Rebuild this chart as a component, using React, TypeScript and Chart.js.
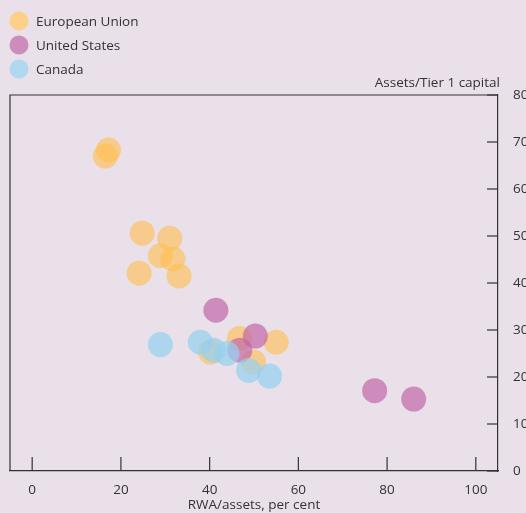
import React, { useEffect, useRef } from "react";
import { Chart, registerables } from "chart.js";

Chart.register(...registerables);

const seriesNames = ["European Union", "United States", "Canada"];
const seriesColors = ["rgba(255,190,80,0.62)", "rgba(192,100,165,0.68)", "rgba(150,208,240,0.72)"];
const legendColors = ["rgb(253,208,138)", "rgb(204,140,188)", "rgb(176,216,240)"];

const euX = [17.2, 16.5, 24.8, 31.0, 28.9, 31.7, 24.1, 33.1, 46.7, 55.0, 40.2, 49.9];
const euY = [68.3, 67.0, 50.6, 49.5, 45.8, 45.1, 42.1, 41.5, 28.2, 27.4, 25.3, 23.2];
const usX = [41.4, 50.3, 46.8, 77.2, 86.0];
const usY = [34.2, 28.7, 25.7, 17.1, 15.3];
const caX = [28.9, 37.9, 40.9, 43.9, 48.8, 53.5];
const caY = [26.9, 27.4, 25.7, 25.0, 21.4, 20.2];

const xTicks = [0, 20, 40, 60, 80, 100];
const yTicks = [0, 10, 20, 30, 40, 50, 60, 70, 80];
const xTitle = "RWA/assets, per cent";
const yTitle = "Assets/Tier 1 capital";

const FONT = "'Open Sans', sans-serif";
const FS = 13.5;
const TEXT = "#333333";
const LINE = "#333333";

const toPoints = (xs: number[], ys: number[]) => xs.map((x, i) => ({ x, y: ys[i] }));

export default function App() {
  const ref = useRef<HTMLCanvasElement | null>(null);
  useEffect(() => {
    document.body.style.margin = "0";
    const ctx = ref.current!;
    const decor = {
      id: "decor",
      afterDraw(chart: any) {
        const c = chart.ctx;
        const { left, right, top, bottom } = chart.chartArea;
        const xs = chart.scales.x;
        const ys = chart.scales.y;
        c.save();
        c.strokeStyle = LINE;
        c.lineWidth = 1.2;
        c.beginPath();
        c.moveTo(left, bottom);
        c.lineTo(left, top);
        c.lineTo(right, top);
        c.stroke();
        xTicks.forEach((v) => {
          const px = xs.getPixelForValue(v);
          c.beginPath();
          c.moveTo(px, bottom);
          c.lineTo(px, bottom - 14);
          c.stroke();
        });
        yTicks.forEach((v) => {
          const py = ys.getPixelForValue(v);
          c.beginPath();
          c.moveTo(right, py);
          c.lineTo(right - 11, py);
          c.stroke();
        });
        c.fillStyle = TEXT;
        c.font = FS + "px " + FONT;
        c.textAlign = "right";
        c.textBaseline = "middle";
        c.fillText(yTitle, right + 2, top - 12);
        c.textAlign = "left";
        seriesNames.forEach((n, i) => {
          const cy = 21 + i * 24;
          c.fillStyle = legendColors[i];
          c.beginPath();
          c.arc(19, cy, 9.5, 0, Math.PI * 2);
          c.fill();
          c.fillStyle = TEXT;
          c.fillText(n, 36, cy + 1);
        });
        c.restore();
      },
    };
    const chart = new Chart(ctx, {
      type: "scatter",
      data: {
        datasets: [
          { label: seriesNames[0], data: toPoints(euX, euY), order: 3 },
          { label: seriesNames[1], data: toPoints(usX, usY), order: 2 },
          { label: seriesNames[2], data: toPoints(caX, caY), order: 1 },
        ].map((d, i) => ({
          ...d,
          backgroundColor: seriesColors[i],
          borderWidth: 0,
          pointRadius: 12.5,
          pointHoverRadius: 12.5,
        })),
      },
      options: {
        animation: false,
        responsive: false,
        maintainAspectRatio: false,
        layout: { autoPadding: false, padding: { left: 10, top: 95, right: 0, bottom: 0 } },
        plugins: { legend: { display: false }, tooltip: { enabled: false } },
        scales: {
          x: {
            type: "linear",
            min: -5,
            max: 105,
            afterFit: (s: any) => { s.height = 42; s.paddingLeft = 0; s.paddingRight = 0; },
            afterBuildTicks: (s: any) => { s.ticks = xTicks.map((v) => ({ value: v })); },
            grid: { display: false },
            border: { display: true, color: LINE, width: 1.2 },
            ticks: { color: TEXT, font: { family: FONT, size: FS }, padding: 3, maxRotation: 0 },
            title: { display: true, text: xTitle, color: TEXT, font: { family: FONT, size: FS }, padding: 0 },
          },
          y: {
            type: "linear",
            position: "right",
            min: 0,
            max: 80,
            afterFit: (s: any) => { s.width = 28; },
            afterBuildTicks: (s: any) => { s.ticks = yTicks.map((v) => ({ value: v })); },
            grid: { display: false },
            border: { display: true, color: LINE, width: 1.2 },
            ticks: { color: TEXT, font: { family: FONT, size: FS }, padding: 7 },
          },
        },
      },
      plugins: [decor],
    } as any);
    return () => chart.destroy();
  }, []);
  return (
    <div style={{ position: "absolute", left: 0, top: 0, width: 526, height: 513, background: "rgb(233,224,233)" }}>
      <canvas ref={ref} width={526} height={513} style={{ width: 526, height: 513, display: "block" }} />
    </div>
  );
}
